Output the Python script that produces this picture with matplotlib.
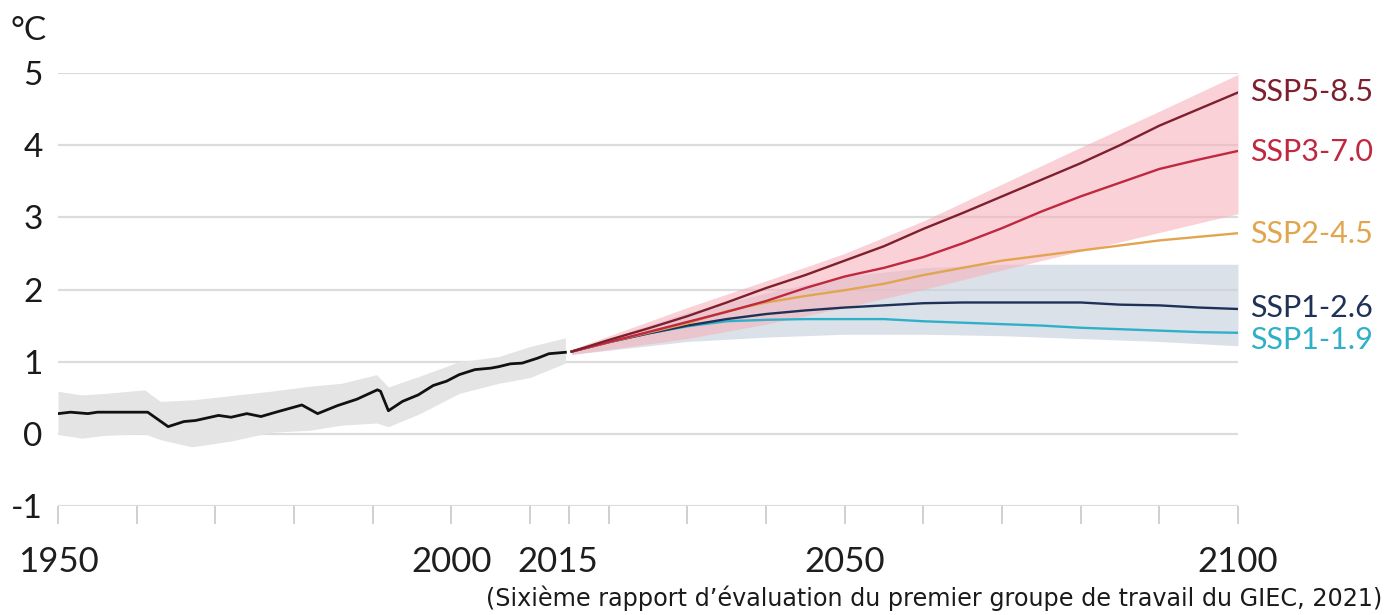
import matplotlib
matplotlib.use("Agg")
import matplotlib.pyplot as plt

# ---------------- data ----------------
hist_years = [1950, 1951.6, 1953.8, 1955, 1961.4, 1964, 1966, 1967.5, 1970.4, 1972, 1974,
              1975.8, 1977.7, 1981, 1983, 1985.5, 1988, 1990.6, 1991, 1992, 1993.8, 1995.8,
              1997.7, 1999.4, 2001, 2003, 2005, 2006, 2007.5, 2009, 2011, 2012.4, 2014.5]
hist_temp = [0.28, 0.30, 0.28, 0.30, 0.30, 0.10, 0.17, 0.185, 0.255, 0.23, 0.28,
             0.24, 0.30, 0.40, 0.28, 0.39, 0.48, 0.61, 0.59, 0.32, 0.45, 0.54,
             0.67, 0.73, 0.82, 0.89, 0.91, 0.93, 0.97, 0.98, 1.05, 1.11, 1.13]

hist_band_years = [1950, 1953, 1956, 1961, 1963, 1967, 1972, 1977, 1982, 1986, 1990.5,
                   1992, 1996, 2001, 2006, 2010, 2014.5]
hist_band_upper = [0.59, 0.54, 0.56, 0.61, 0.45, 0.47, 0.53, 0.59, 0.66, 0.70, 0.82,
                   0.65, 0.80, 1.00, 1.07, 1.21, 1.33]
hist_band_lower = [-0.01, -0.06, -0.02, 0.00, -0.08, -0.18, -0.10, 0.02, 0.05, 0.12, 0.15,
                   0.10, 0.28, 0.56, 0.70, 0.78, 0.98]

proj_years = [2015.3, 2020, 2025, 2030, 2035, 2040, 2045, 2050, 2055, 2060, 2065,
              2070, 2075, 2080, 2085, 2090, 2095, 2100]
ssp585 = [1.14, 1.30, 1.46, 1.63, 1.82, 2.02, 2.20, 2.40, 2.60, 2.84, 3.06,
          3.29, 3.52, 3.75, 4.00, 4.27, 4.50, 4.73]
ssp370 = [1.14, 1.27, 1.41, 1.55, 1.69, 1.84, 2.02, 2.18, 2.30, 2.45, 2.64,
          2.85, 3.08, 3.29, 3.48, 3.67, 3.80, 3.92]
ssp245 = [1.14, 1.27, 1.40, 1.53, 1.70, 1.82, 1.91, 1.99, 2.08, 2.20, 2.30,
          2.40, 2.47, 2.54, 2.61, 2.68, 2.73, 2.78]
ssp126 = [1.14, 1.27, 1.39, 1.50, 1.59, 1.66, 1.71, 1.75, 1.78, 1.81, 1.82,
          1.82, 1.82, 1.82, 1.79, 1.78, 1.75, 1.73]
ssp119 = [1.14, 1.27, 1.39, 1.49, 1.56, 1.58, 1.59, 1.59, 1.59, 1.56, 1.54,
          1.52, 1.50, 1.47, 1.45, 1.43, 1.41, 1.40]

band_years = [2015.3, 2030, 2040, 2050, 2060, 2070, 2080, 2090, 2100]
red_upper = [1.17, 1.75, 2.12, 2.50, 2.95, 3.46, 3.97, 4.47, 4.98]
red_lower = [1.10, 1.32, 1.52, 1.75, 2.00, 2.27, 2.53, 2.79, 3.05]
blue_upper = [1.15, 1.68, 1.95, 2.18, 2.30, 2.35, 2.35, 2.35, 2.35]
blue_lower = [1.10, 1.28, 1.34, 1.38, 1.38, 1.36, 1.32, 1.28, 1.22]

scenario_names = ["SSP5-8.5", "SSP3-7.0", "SSP2-4.5", "SSP1-2.6", "SSP1-1.9"]
scenario_label_y = [4.73, 3.90, 2.77, 1.75, 1.30]

y_ticks = [-1, 0, 1, 2, 3, 4, 5]
x_tick_marks = [1950, 1960, 1970, 1980, 1990, 2000, 2010, 2015, 2020, 2030, 2040,
                2050, 2060, 2070, 2080, 2090, 2100]
x_label_years = [1950, 2000, 2015, 2050, 2100]
x_label_text = ["1950", "2000", "2015", "2050", "2100"]

# ---------------- style ----------------
colors = ["#7e1f2e", "#c0283f", "#e2a54f", "#1f3157", "#2fb0c8"]
W, H = 1392, 615
fig = plt.figure(figsize=(W / 100, H / 100), dpi=100)
ax = fig.add_axes([58 / W, 1 - 506 / H, 1180 / W, 433 / H])
ax.set_xlim(1950, 2100)
ax.set_ylim(-1, 5)
for s in ax.spines.values():
    s.set_visible(False)

grid_c = "#dcdcdc"
for yv in y_ticks:
    ax.axhline(yv, color=grid_c, lw=1.6, zorder=1)

ax.set_yticks(y_ticks)
ax.set_yticklabels([str(v) for v in y_ticks], fontsize=24, family="Lato", color="#1a1a1a")
ax.tick_params(axis="y", length=0, pad=11)
ax.set_xticks(x_tick_marks)
ax.set_xticklabels([])
ax.tick_params(axis="x", length=13, width=1.4, color="#d0d0d0", direction="out")

# historical
ax.fill_between(hist_band_years, hist_band_lower, hist_band_upper, color="#e4e4e4",
                lw=0, zorder=2)
ax.plot(hist_years, hist_temp, color="#111111", lw=2.0, zorder=5)

# projection bands
ax.fill_between(band_years, blue_lower, blue_upper, color="#c9d1de", alpha=0.65,
                lw=0, zorder=2)
ax.fill_between(band_years, red_lower, red_upper, color="#f5b3bd", alpha=0.6,
                lw=0, zorder=3)

series = [ssp585, ssp370, ssp245, ssp126, ssp119]
order = [4, 3, 2, 1, 0]
for i in order:
    ax.plot(proj_years, series[i], color=colors[i], lw=1.7, zorder=6)

for name, yv, c in zip(scenario_names, scenario_label_y, colors):
    ax.annotate(name, xy=(2100, yv), xytext=(9, 0), textcoords="offset points",
                ha="left", va="center", fontsize=22, family="Lato", color=c,
                annotation_clip=False)

# x labels
label_offsets = [0, 0, -1.5, 0, 0]
for yr, txt, off in zip(x_label_years, x_label_text, label_offsets):
    ax.annotate(txt, xy=(yr + off, -1), xytext=(0, -29), textcoords="offset points",
                ha="center", va="top", fontsize=25, family="Lato", color="#1e1e1e",
                annotation_clip=False)

fig.text(10 / W, 1 - 31 / H, "°C", fontsize=24, family="Lato", color="#1a1a1a",
         ha="left", va="center")
fig.text(1382 / W, 1 - 598 / H,
         "(Sixième rapport d’évaluation du premier groupe de travail du GIEC, 2021)",
         fontsize=17.2, family="DejaVu Sans", color="#1a1a1a", ha="right", va="center")

fig.savefig("out.png", dpi=100, facecolor="white")
